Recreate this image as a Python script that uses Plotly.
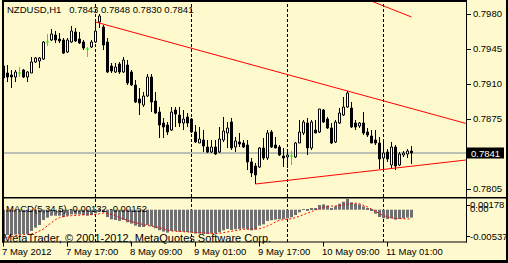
import plotly.graph_objects as go

W, H = 508, 263
BG = "#FFFACD"

# ---------------- data (NZDUSD H1, bars from 7 May 2012 01:00) ----------------
open_ = [0.7928, 0.7921, 0.7919, 0.7917, 0.7921, 0.7924, 0.7917, 0.7921, 0.7932, 0.7933,
         0.7935, 0.7952, 0.7954, 0.7959, 0.7955, 0.7954, 0.7942, 0.7952, 0.7962, 0.7955,
         0.7952, 0.7945, 0.7947, 0.7952, 0.7972, 0.7967, 0.7952, 0.7928, 0.7922, 0.7930,
         0.7922, 0.7929, 0.7922, 0.7909, 0.7895, 0.7889, 0.7898, 0.7917, 0.7893, 0.7882,
         0.7871, 0.7869, 0.7864, 0.7884, 0.7879, 0.7871, 0.7877, 0.7875, 0.7862, 0.7851,
         0.7854, 0.7847, 0.7842, 0.7847, 0.7842, 0.7854, 0.7861, 0.7872, 0.7847, 0.7852,
         0.7851, 0.7849, 0.7832, 0.7828, 0.7827, 0.7846, 0.7836, 0.7862, 0.7849, 0.7847,
         0.7838, 0.7837, 0.7838, 0.7837, 0.7851, 0.7861, 0.7871, 0.7846, 0.7864, 0.7862,
         0.7884, 0.7875, 0.7866, 0.7852, 0.7871, 0.7879, 0.7887, 0.7886, 0.7871, 0.7868,
         0.7871, 0.7862, 0.7858, 0.7854, 0.7851, 0.7836, 0.7842, 0.7829, 0.7847, 0.7829,
         0.7839, 0.7840, 0.7843]
high = [0.7931, 0.7929, 0.7924, 0.7924, 0.7927, 0.7925, 0.7923, 0.7937, 0.7937, 0.7937,
        0.7953, 0.7960, 0.7965, 0.7963, 0.7961, 0.7956, 0.7956, 0.7968, 0.7966, 0.7962,
        0.7954, 0.7947, 0.7954, 0.7972, 0.7980, 0.7969, 0.7956, 0.7931, 0.7931, 0.7932,
        0.7937, 0.7934, 0.7924, 0.7914, 0.7906, 0.7902, 0.7920, 0.7920, 0.7902, 0.7887,
        0.7876, 0.7872, 0.7887, 0.7887, 0.7887, 0.7884, 0.7881, 0.7876, 0.7869, 0.7867,
        0.7864, 0.7854, 0.7854, 0.7854, 0.7867, 0.7877, 0.7872, 0.7876, 0.7857, 0.7861,
        0.7854, 0.7854, 0.7836, 0.7831, 0.7847, 0.7856, 0.7864, 0.7864, 0.7857, 0.7849,
        0.7846, 0.7842, 0.7843, 0.7852, 0.7874, 0.7874, 0.7876, 0.7874, 0.7874, 0.7885,
        0.7885, 0.7877, 0.7871, 0.7874, 0.7886, 0.7897, 0.7903, 0.7892, 0.7874, 0.7872,
        0.7882, 0.7866, 0.7864, 0.7864, 0.7857, 0.7852, 0.7845, 0.7852, 0.7849, 0.7842,
        0.7843, 0.7845, 0.7848]
low = [0.7907, 0.7912, 0.7906, 0.7912, 0.7917, 0.7916, 0.7912, 0.7921, 0.7931, 0.7926,
       0.7934, 0.7948, 0.7953, 0.7951, 0.7951, 0.7940, 0.7941, 0.7951, 0.7952, 0.7950,
       0.7944, 0.7937, 0.7946, 0.7951, 0.7966, 0.7944, 0.7921, 0.7921, 0.7921, 0.7920,
       0.7921, 0.7909, 0.7908, 0.7891, 0.7879, 0.7887, 0.7897, 0.7882, 0.7880, 0.7856,
       0.7856, 0.7859, 0.7863, 0.7867, 0.7867, 0.7864, 0.7867, 0.7861, 0.7851, 0.7851,
       0.7842, 0.7841, 0.7841, 0.7839, 0.7841, 0.7852, 0.7846, 0.7844, 0.7842, 0.7847,
       0.7846, 0.7824, 0.7817, 0.7810, 0.7826, 0.7834, 0.7834, 0.7846, 0.7846, 0.7838,
       0.7827, 0.7826, 0.7829, 0.7836, 0.7851, 0.7859, 0.7839, 0.7844, 0.7861, 0.7861,
       0.7871, 0.7865, 0.7850, 0.7851, 0.7870, 0.7878, 0.7886, 0.7866, 0.7864, 0.7866,
       0.7859, 0.7857, 0.7851, 0.7849, 0.7825, 0.7824, 0.7832, 0.7825, 0.7824, 0.7828,
       0.7837, 0.7836, 0.7830]
close = [0.7916, 0.7917, 0.7917, 0.7922, 0.7921, 0.7917, 0.7922, 0.7932, 0.7936, 0.7936,
         0.7952, 0.7952, 0.7960, 0.7954, 0.7953, 0.7941, 0.7954, 0.7963, 0.7953, 0.7951,
         0.7946, 0.7945, 0.7952, 0.7963, 0.7978, 0.7949, 0.7922, 0.7923, 0.7927, 0.7922,
         0.7934, 0.7911, 0.7909, 0.7892, 0.7891, 0.7898, 0.7917, 0.7892, 0.7881, 0.7869,
         0.7867, 0.7862, 0.7882, 0.7880, 0.7871, 0.7875, 0.7871, 0.7862, 0.7852, 0.7855,
         0.7848, 0.7842, 0.7847, 0.7840, 0.7855, 0.7863, 0.7866, 0.7846, 0.7853, 0.7850,
         0.7847, 0.7832, 0.7821, 0.7819, 0.7846, 0.7836, 0.7861, 0.7847, 0.7846, 0.7839,
         0.7836, 0.7839, 0.7838, 0.7851, 0.7862, 0.7872, 0.7846, 0.7872, 0.7861, 0.7885,
         0.7872, 0.7866, 0.7851, 0.7872, 0.7881, 0.7887, 0.7901, 0.7867, 0.7867, 0.7871,
         0.7861, 0.7859, 0.7851, 0.7851, 0.7835, 0.7841, 0.7835, 0.7847, 0.7828, 0.7840,
         0.7841, 0.7843, 0.7841]

macd = [-0.00420, -0.00420, -0.00420, -0.00414, -0.00408, -0.00408, -0.00403, -0.00353, -0.00298, -0.00254,
        -0.00171, -0.00132, -0.00099, -0.00099, -0.00099, -0.00121, -0.00099, -0.00077, -0.00077, -0.00077,
        -0.00088, -0.00099, -0.00088, -0.00060, -0.00010, -0.00043, -0.00121, -0.00160, -0.00171, -0.00187,
        -0.00171, -0.00209, -0.00231, -0.00265, -0.00287, -0.00287, -0.00254, -0.00276, -0.00309, -0.00342,
        -0.00364, -0.00381, -0.00353, -0.00353, -0.00364, -0.00364, -0.00370, -0.00381, -0.00397, -0.00397,
        -0.00403, -0.00403, -0.00397, -0.00397, -0.00375, -0.00342, -0.00320, -0.00337, -0.00325, -0.00320,
        -0.00314, -0.00325, -0.00342, -0.00331, -0.00265, -0.00243, -0.00187, -0.00176, -0.00165, -0.00160,
        -0.00154, -0.00143, -0.00126, -0.00088, -0.00043, 0.00001, -0.00021, 0.00012, 0.00023, 0.00078,
        0.00089, 0.00067, 0.00023, 0.00056, 0.00100, 0.00133, 0.00178, 0.00122, 0.00100, 0.00089,
        0.00056, 0.00023, -0.00021, -0.00066, -0.00121, -0.00143, -0.00154, -0.00143, -0.00165, -0.00154,
        -0.00143, -0.00132, -0.00132]
signal = [-0.00470, -0.00455, -0.00440, -0.00430, -0.00420, -0.00415, -0.00410, -0.00403, -0.00386, -0.00359,
          -0.00320, -0.00265, -0.00215, -0.00165, -0.00132, -0.00115, -0.00104, -0.00099, -0.00093, -0.00088,
          -0.00082, -0.00082, -0.00082, -0.00082, -0.00066, -0.00055, -0.00060, -0.00077, -0.00099, -0.00132,
          -0.00160, -0.00176, -0.00198, -0.00215, -0.00237, -0.00254, -0.00265, -0.00270, -0.00281, -0.00298,
          -0.00320, -0.00342, -0.00353, -0.00359, -0.00364, -0.00364, -0.00364, -0.00370, -0.00375, -0.00381,
          -0.00386, -0.00392, -0.00397, -0.00397, -0.00392, -0.00381, -0.00364, -0.00353, -0.00342, -0.00331,
          -0.00325, -0.00325, -0.00325, -0.00325, -0.00314, -0.00298, -0.00276, -0.00243, -0.00204, -0.00176,
          -0.00165, -0.00160, -0.00149, -0.00132, -0.00110, -0.00077, -0.00055, -0.00032, -0.00005, 0.00023,
          0.00045, 0.00056, 0.00056, 0.00062, 0.00067, 0.00084, 0.00095, 0.00106, 0.00111, 0.00100,
          0.00078, 0.00045, 0.00012, -0.00032, -0.00066, -0.00099, -0.00121, -0.00137, -0.00143, -0.00149,
          -0.00154, -0.00154, -0.00152]

time_tick_index = [0, 16, 32, 48, 64, 80, 96]
time_tick_text = ["7 May 2012", "7 May 17:00", "8 May 09:00", "9 May 01:00",
                  "9 May 17:00", "10 May 09:00", "11 May 01:00"]
day_start_index = [23, 47, 71, 95]          # 8, 9, 10, 11 May 00:00
price_ticks = [0.7805, 0.7840, 0.7875, 0.7910, 0.7945, 0.7980]
price_tick_text = ["0.7805", "", "0.7875", "0.7910", "0.7945", "0.7980"]  # 0.7840 hidden by bid box
bid = 0.7841
macd_max, macd_min = 0.00178, -0.00537
title_text = "NZDUSD,H1\u00a0\u00a0 0.7843 0.7848 0.7830 0.7841"
macd_text = "MACD(5,34,5) -0.00132 -0.00152"
copyright_text = "MetaTrader, \u00a9 2001-2012, MetaQuotes Software Corp."
# trend lines: (bar index, price) anchors
trend_upper = [(23, 0.7972), (86, 0.7903)]
trend_lower = [(63, 0.7810), (97, 0.78255)]
trend_old = [(85, 0.8004), (102, 0.7977)]

# ---------------- helpers ----------------
FONT = "Liberation Sans"
idx = list(range(len(open_)))
X_RANGE = [0.125, 115.625]
PLOT_L, PLOT_R = 4, 466          # plot area pixel edges


def px(x):
    return x / W


def py(y):
    return 1 - y / H


def bar_px(i):
    return PLOT_L + (i - X_RANGE[0]) * (PLOT_R - PLOT_L) / (X_RANGE[1] - X_RANGE[0])


fig = go.Figure()


def wick_xy(sel):
    xs, ys = [], []
    for i in sel:
        o, h, l, c = open_[i], high[i], low[i], close[i]
        top, bot = max(o, c), min(o, c)
        if h > top:
            xs += [i, i, None]; ys += [top, h, None]
        if l < bot:
            xs += [i, i, None]; ys += [l, bot, None]
    return xs, ys

up = [i for i in idx if close[i] > open_[i]]
dn = [i for i in idx if close[i] < open_[i]]
dj = [i for i in idx if close[i] == open_[i]]

wx, wy = wick_xy(up + dn)
fig.add_trace(go.Scatter(x=wx, y=wy, mode="lines", line=dict(color="black", width=1),
                         hoverinfo="skip"))
fig.add_trace(go.Bar(x=up, y=[close[i] - open_[i] for i in up], base=[open_[i] for i in up],
                     width=0.5, marker=dict(color="white", line=dict(color="black", width=1))))
fig.add_trace(go.Bar(x=dn, y=[open_[i] - close[i] for i in dn], base=[close[i] for i in dn],
                     width=0.5, marker=dict(color="black", line=dict(color="black", width=1))))
djx, djy = [], []
for i in dj:
    djx += [i, i, None, i - 0.375, i + 0.375, None]
    djy += [low[i], high[i], None, open_[i], open_[i], None]
fig.add_trace(go.Scatter(x=djx, y=djy, mode="lines", line=dict(color="#00FF00", width=1),
                         hoverinfo="skip"))


def ray(a, b, x_end):
    (x0, y0), (x1, y1) = a, b
    s = (y1 - y0) / (x1 - x0)
    return [x0, x_end], [y0, y0 + s * (x_end - x0)]

for pts, extend in ((trend_upper, True), (trend_lower, True), (trend_old, False)):
    if extend:
        xs, ys = ray(pts[0], pts[1], X_RANGE[1] + 2)
    else:
        xs, ys = [pts[0][0], pts[1][0]], [pts[0][1], pts[1][1]]
    fig.add_trace(go.Scatter(x=xs, y=ys, mode="lines", line=dict(color="#FF0000", width=1),
                             hoverinfo="skip"))

fig.add_trace(go.Bar(x=idx, y=macd, yaxis="y2", width=0.75,
                     marker=dict(color="#707070", line=dict(width=0))))
fig.add_trace(go.Scatter(x=idx, y=signal, yaxis="y2", mode="lines",
                         line=dict(color="#FF0000", width=1, dash="2px,2px"), hoverinfo="skip"))

# ---------------- shapes ----------------
shapes = []
for i in day_start_index:
    shapes.append(dict(type="line", xref="x", yref="paper", x0=i, x1=i, y0=py(242), y1=py(2),
                       line=dict(color="black", width=1, dash="3px,2px"), layer="below"))
shapes.append(dict(type="line", xref="paper", yref="y", x0=px(PLOT_L), x1=px(PLOT_R), y0=bid, y1=bid,
                   line=dict(color="#778899", width=1), layer="below"))


def rect(x0, y0, x1, y1, color="black"):
    return dict(type="rect", xref="paper", yref="paper", x0=px(x0), x1=px(x1),
                y0=py(y1), y1=py(y0), fillcolor=color, line=dict(width=0), layer="above")

shapes += [
    rect(2, 0, 467, 2),
    rect(2, 0, 4, 242.5),
    rect(466, 0, 467, 242.5),
    rect(2, 197, 506, 198.5),
    rect(2, 241.5, 467, 242.5),
    rect(506, 0, 508, 263),
    rect(0, 260, 508, 263),
]
for i in time_tick_index:
    xp = max(bar_px(i), 3.5)
    shapes.append(dict(type="line", xref="paper", yref="paper", x0=px(xp), x1=px(xp),
                       y0=py(242), y1=py(246.5), line=dict(color="black", width=1)))
for yy in (205.5, 236.5):
    shapes.append(dict(type="line", xref="paper", yref="paper", x0=px(466), x1=px(470),
                       y0=py(yy), y1=py(yy), line=dict(color="black", width=1)))
shapes.append(dict(type="rect", xref="paper", yref="y", x0=px(467), x1=px(504),
                   y0=bid - 0.00055, y1=bid + 0.00055, fillcolor="black", line=dict(width=0)))

# ---------------- annotations ----------------
ann = []


def text(x, y, s, size=9.5, color="black", yref="paper"):
    ann.append(dict(x=x, y=y, xref="paper", yref=yref, text=s, showarrow=False, xanchor="left",
                    yanchor="middle", borderpad=0, borderwidth=0,
                    font=dict(family=FONT, size=size, color=color)))

text(px(7), py(10), title_text)
text(px(6), py(208), macd_text)
text(px(2.5), py(238), copyright_text, size=11)
for i, s in zip(time_tick_index, time_tick_text):
    text(px(max(bar_px(i), 3.5) - 1.5), py(251.5), s)
text(px(470), py(204.5), f"{macd_max:.5f}")
text(px(470), py(208.5), "0.00")
text(px(470), py(236), f"{macd_min:.5f}")
text(px(471), bid, f"{bid:.4f}", color="white", yref="y")

fig.update_layout(
    width=W, height=H, margin=dict(l=0, r=0, t=0, b=0),
    paper_bgcolor=BG, plot_bgcolor=BG, showlegend=False, barmode="overlay",
    shapes=shapes, annotations=ann,
    xaxis=dict(domain=[px(PLOT_L), px(PLOT_R)], range=X_RANGE, anchor="y2", showgrid=False,
               zeroline=False, showticklabels=False, ticks="", showline=False),
    yaxis=dict(domain=[py(197), py(2)], range=[0.7797, 0.7992], side="right", anchor="x",
               tickvals=price_ticks, ticktext=price_tick_text, ticks="outside", ticklen=4,
               tickwidth=1, tickcolor="black", showgrid=False, zeroline=False, showline=False,
               tickfont=dict(family=FONT, size=9.5, color="black")),
    yaxis2=dict(domain=[py(242), py(199)], range=[macd_min, macd_max], anchor="x",
                showgrid=False, zeroline=False, showticklabels=False, ticks="", showline=False),
)

fig.write_html("out.html")
